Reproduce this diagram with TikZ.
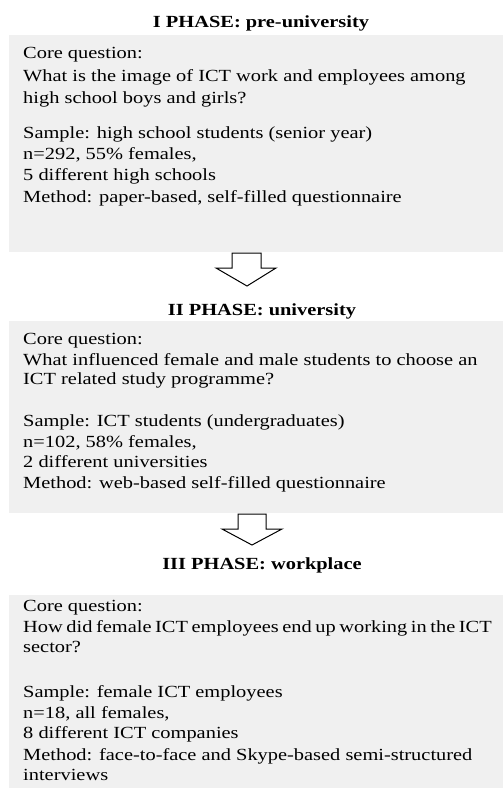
\documentclass[tikz,border=0pt]{standalone}
\usepackage{fontspec}
\setmainfont{Liberation Serif}[FakeStretch=1.2]
\definecolor{boxgray}{RGB}{240,240,240}
\begin{document}
\begin{tikzpicture}[x=1pt,y=-1pt,
  txt/.style={anchor=base west,inner sep=0pt,font=\fontsize{17}{21}\selectfont},
  ttl/.style={anchor=base,inner sep=0pt,font=\fontsize{17}{21}\selectfont\bfseries},
  panel/.style={fill=boxgray,draw=none},
  blockarrow/.style={draw=black,line width=1pt,fill=white,line join=miter}]
\useasboundingbox (0,0) rectangle (503,788);
\fill[white] (0,0) rectangle (503,788);
% panels
\path[panel] (9,35) rectangle (503,252);
\path[panel] (9,321) rectangle (503,513);
\path[panel] (9,595) rectangle (503,788);
% titles
\node[ttl] (t1) at (261,27) {I PHASE: pre-university};
\node[ttl] (t2) at (262,315) {II PHASE: university};
\node[ttl] (t3) at (262,569) {III PHASE: workplace};
% arrows
\draw[blockarrow] (232,253) -- (261,253) -- (261,268) -- (276,268) -- (247,286) -- (216,268) -- (232,268) -- cycle;
\draw[blockarrow] (238,514) -- (266,514) -- (266,529) -- (282,529) -- (252,545) -- (222,529) -- (238,529) -- cycle;
% box 1 text
\foreach \yy/\lintext [count=\i] in {58/{Core question:},
  81/{What is the image of ICT work and employees among},
  103/{high school boys and girls?},
  138/{Sample: high school students (senior year)},
  159/{n=292, 55\% females,},
  180/{5 different high schools},
  202/{Method: paper-based, self-filled questionnaire}}
  \node[txt] (a\i) at (23,\yy) {\lintext};
% box 2 text
\foreach \yy/\lintext [count=\i] in {344/{Core question:},
  365/{What influenced female and male students to choose an},
  384/{ICT related study programme?},
  426/{Sample: ICT students (undergraduates)},
  447/{n=102, 58\% females,},
  467/{2 different universities},
  488/{Method: web-based self-filled questionnaire}}
  \node[txt] (b\i) at (23,\yy) {\lintext};
% box 3 text
\foreach \yy/\lintext [count=\i] in {611/{Core question:},
  632/{{\spaceskip=0.21em\relax How did female ICT employees end up working in the ICT}},
  652/{sector?},
  697/{Sample: female ICT employees},
  718/{n=18, all females,},
  738/{8 different ICT companies},
  760/{Method: face-to-face and Skype-based semi-structured},
  780/{interviews}}
  \node[txt] (c\i) at (23,\yy) {\lintext};
\end{tikzpicture}
\end{document}
